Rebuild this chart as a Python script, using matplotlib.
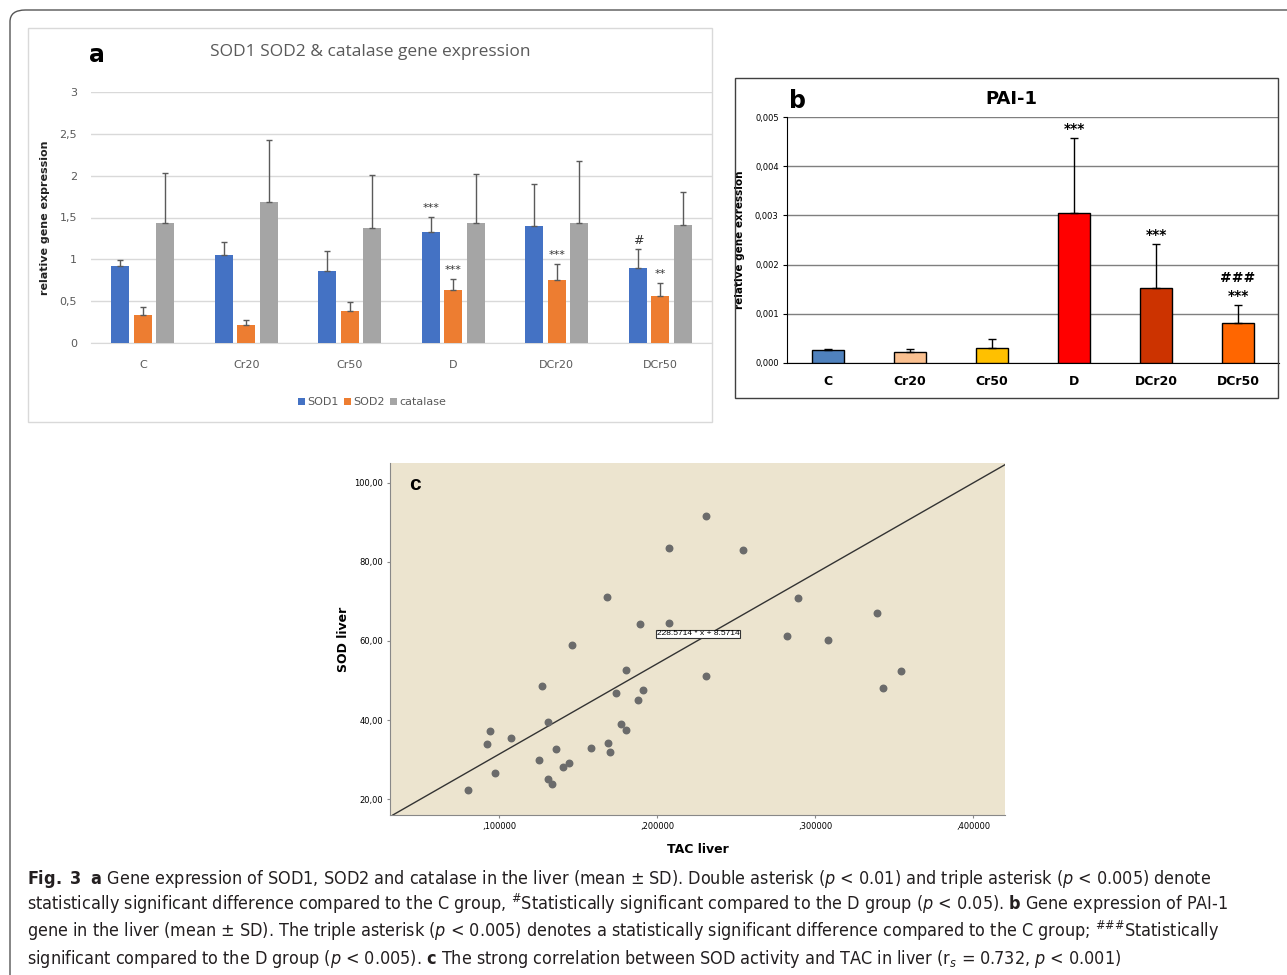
import numpy as np
import matplotlib
matplotlib.use('Agg')
import matplotlib.pyplot as plt
from matplotlib.patches import FancyBboxPatch, Rectangle

# panel a: SOD1 / SOD2 / catalase relative expression (mean, SD)
groups = ['C', 'Cr20', 'Cr50', 'D', 'DCr20', 'DCr50']
sod1 = [0.92, 1.05, 0.86, 1.33, 1.40, 0.90]
sod1_sd = [0.07, 0.16, 0.24, 0.18, 0.50, 0.22]
sod2 = [0.33, 0.22, 0.38, 0.63, 0.75, 0.56]
sod2_sd = [0.10, 0.05, 0.11, 0.14, 0.20, 0.16]
catalase = [1.43, 1.68, 1.37, 1.43, 1.44, 1.41]
catalase_sd = [0.60, 0.75, 0.64, 0.59, 0.73, 0.40]
# (group, series, mark)
marks_a = [(3, 0, '***'), (3, 1, '***'), (4, 1, '***'), (5, 0, '#'), (5, 1, '**')]

# panel b: PAI-1
pai1 = [0.00026, 0.00022, 0.00031, 0.00305, 0.00153, 0.00082]
pai1_sd = [0.00003, 0.00007, 0.00017, 0.00152, 0.00088, 0.00035]
pai1_colors = ['#4f81bd', '#fac090', '#ffc000', '#ff0000', '#cc3300', '#ff6600']
marks_b = [(3, '***'), (4, '***'), (5, '***')]

# panel c: SOD vs TAC in liver
tac = [0.080, 0.092, 0.094, 0.097, 0.107, 0.125, 0.127, 0.131, 0.131, 0.133,
       0.136, 0.140, 0.144, 0.146, 0.158, 0.168, 0.169, 0.170, 0.174, 0.177,
       0.180, 0.180, 0.188, 0.189, 0.191, 0.207, 0.207, 0.231, 0.231, 0.254,
       0.282, 0.289, 0.308, 0.339, 0.343, 0.354]
sod = [22.3, 33.9, 37.3, 26.7, 35.5, 29.9, 48.5, 39.6, 25.1, 23.8,
       32.6, 28.2, 29.1, 58.9, 33.0, 71.1, 34.3, 32.0, 46.8, 38.9,
       52.7, 37.4, 45.0, 64.3, 47.5, 64.5, 83.5, 91.6, 51.1, 83.1,
       61.2, 70.8, 60.2, 67.2, 48.0, 52.3]
slope, intercept = 228.5714, 8.5714
tac_ticks = [0.1, 0.2, 0.3, 0.4]
sod_ticks = [20, 40, 60, 80, 100]

caption = [
    r"$\mathbf{Fig.\ 3}$  $\mathbf{a}$ Gene expression of SOD1, SOD2 and catalase in the liver (mean ± SD). Double asterisk ($p$ < 0.01) and triple asterisk ($p$ < 0.005) denote",
    r"statistically significant difference compared to the C group, $^{\#}$Statistically significant compared to the D group ($p$ < 0.05). $\mathbf{b}$ Gene expression of PAI-1",
    r"gene in the liver (mean ± SD). The triple asterisk ($p$ < 0.005) denotes a statistically significant difference compared to the C group; $^{\#\#\#}$Statistically",
    r"significant compared to the D group ($p$ < 0.005). $\mathbf{c}$ The strong correlation between SOD activity and TAC in liver (r$_{s}$ = 0.732, $p$ < 0.001)",
]

cap_font = 'DejaVu Sans'
plt.rcParams['mathtext.fontset'] = 'custom'
plt.rcParams['mathtext.rm'] = cap_font + ':stretch=condensed'
plt.rcParams['mathtext.it'] = cap_font + ':italic:stretch=condensed'
plt.rcParams['mathtext.bf'] = cap_font + ':bold:stretch=condensed'

W, H = 1287, 975
fig = plt.figure(figsize=(W / 100, H / 100), dpi=100)


def fx(px):
    return px / W


def fy(py):
    return 1 - py / H


# outer rounded frame
fig.add_artist(FancyBboxPatch((fx(10), fy(1000)), fx(1320) - fx(10), fy(10) - fy(1000),
                              boxstyle='round,pad=0,rounding_size=0.012',
                              transform=fig.transFigure, fill=False, ec='#555555', lw=1))

# ---------------- panel a ----------------
fig.add_artist(Rectangle((fx(28), fy(422)), fx(712) - fx(28), fy(28) - fy(422),
                         transform=fig.transFigure, fill=False, ec='#d9d9d9', lw=1))
ax_a = fig.add_axes([fx(91), fy(343), fx(712) - fx(91), fy(92) - fy(343)])
x = np.arange(len(groups))
gray_txt = '#595959'
series = [(sod1, sod1_sd, '#4472c4', 'SOD1'),
          (sod2, sod2_sd, '#ed7d31', 'SOD2'),
          (catalase, catalase_sd, '#a5a5a5', 'catalase')]
offsets = [-0.217, 0, 0.217]
for (vals, sds, col, lab), dx in zip(series, offsets):
    ax_a.bar(x + dx, vals, 0.175, color=col, label=lab, zorder=3)
    ax_a.errorbar(x + dx, vals, yerr=[np.zeros(len(vals)), sds], fmt='none',
                  ecolor='#5a5a5a', elinewidth=1, capsize=2.5, capthick=1, zorder=4)
for g, s, txt in marks_a:
    vals, sds = series[s][0], series[s][1]
    ax_a.text(g + offsets[s], vals[g] + sds[g] + 0.1, txt, ha='center', va='center',
              fontsize=8 if txt != '#' else 9, color='#333333', family='DejaVu Sans')
ax_a.set_xlim(-0.5, 5.5)
ax_a.set_ylim(0, 3)
ax_a.set_yticks(np.arange(0, 3.01, 0.5))
ax_a.set_yticklabels(['0', '0,5', '1', '1,5', '2', '2,5', '3'])
ax_a.set_xticks(x)
ax_a.set_xticklabels(groups)
ax_a.tick_params(length=0, labelsize=8, labelcolor=gray_txt, pad=12)
ax_a.tick_params(axis='y', pad=10)
ax_a.grid(axis='y', color='#d9d9d9', lw=1, zorder=0)
for sp in ['top', 'right', 'left']:
    ax_a.spines[sp].set_visible(False)
ax_a.spines['bottom'].set_color('#d9d9d9')
ax_a.set_ylabel('relative gene expression', fontsize=8, fontweight='bold', color='#222222')
ax_a.yaxis.set_label_coords(-0.066, 0.5)
fig.text(fx(370), fy(52), 'SOD1 SOD2 & catalase gene expression', ha='center', va='center',
         fontsize=12.5, color=gray_txt, family='Open Sans')
fig.text(fx(97), fy(55), 'a', ha='center', va='center', fontsize=17, fontweight='bold')
fig.legend(loc='center', bbox_to_anchor=(fx(372), fy(402)), ncol=3, frameon=False,
           fontsize=8, labelcolor=gray_txt, handlelength=0.6, handleheight=0.6,
           handletextpad=0.2, columnspacing=0.5)

# ---------------- panel b ----------------
fig.add_artist(Rectangle((fx(735), fy(398)), fx(1278) - fx(735), fy(78) - fy(398),
                         transform=fig.transFigure, fill=False, ec='#404040', lw=1))
ax_b = fig.add_axes([fx(787), fy(363), fx(1279) - fx(787), fy(117) - fy(363)])
ax_b.bar(x, pai1, 0.4, color=pai1_colors, edgecolor='black', lw=1, zorder=3)
ax_b.errorbar(x, pai1, yerr=[np.zeros(len(pai1)), pai1_sd], fmt='none', ecolor='black',
              elinewidth=1, capsize=3, capthick=1, zorder=4)
for g, txt in marks_b:
    ax_b.text(g, pai1[g] + pai1_sd[g] + 0.00005, txt, ha='center', va='bottom',
              fontsize=10, fontweight='bold')
ax_b.text(5, pai1[5] + pai1_sd[5] + 0.00042, '###', ha='center', va='bottom',
          fontsize=10, fontweight='bold')
ax_b.set_xlim(-0.5, 5.5)
ax_b.set_ylim(0, 0.005)
ax_b.set_yticks(np.arange(0, 0.00501, 0.001))
ax_b.set_yticklabels(['0,000', '0,001', '0,002', '0,003', '0,004', '0,005'])
ax_b.set_xticks(x)
ax_b.set_xticklabels(groups, fontweight='bold')
ax_b.tick_params(axis='x', length=0, labelsize=9, pad=9)
ax_b.tick_params(axis='y', length=3, labelsize=6, pad=3)
ax_b.grid(axis='y', color='#7f7f7f', lw=1, zorder=0)
for sp in ['top', 'right']:
    ax_b.spines[sp].set_visible(False)
ax_b.set_ylabel('relative gene exression', fontsize=7.5, fontweight='bold')
ax_b.yaxis.set_label_coords(-0.085, 0.5)
fig.text(fx(1011), fy(99), 'PAI-1', ha='center', va='center', fontsize=13, fontweight='bold')
fig.text(fx(797), fy(101), 'b', ha='center', va='center', fontsize=17, fontweight='bold')

# ---------------- panel c ----------------
ax_c = fig.add_axes([fx(390), fy(815), fx(1005) - fx(390), fy(463) - fy(815)])
ax_c.set_facecolor('#ece4cf')
ax_c.scatter(tac, sod, s=22, color='#6b6b6b', zorder=3)
ax_c.axline((0, intercept), slope=slope, color='#333333', lw=1, zorder=2)
ax_c.set_xlim(0.0307, 0.42)
ax_c.set_ylim(16, 105)
ax_c.set_xticks(tac_ticks)
ax_c.set_xticklabels([(',%.6f' % t).replace(',0.', ',') for t in tac_ticks])
ax_c.set_yticks(sod_ticks)
ax_c.set_yticklabels(['%d,00' % v for v in sod_ticks])
ax_c.tick_params(length=2, labelsize=6, color='#888888', pad=3)
for sp in ['top', 'right']:
    ax_c.spines[sp].set_visible(False)
for sp in ['left', 'bottom']:
    ax_c.spines[sp].set_color('#888888')
ax_c.set_xlabel('TAC liver', fontsize=9, fontweight='bold', labelpad=9)
ax_c.set_ylabel('SOD liver', fontsize=9, fontweight='bold', labelpad=3)
ax_c.text(0.2257, 61.8, '%.4f * x + %.4f' % (slope, intercept), ha='center', va='center',
          fontsize=6, family='Liberation Sans',
          bbox=dict(boxstyle='square,pad=0.1', fc='white', ec='#333333', lw=0.8))
ax_c.text(0.04, 0.94, 'c', transform=ax_c.transAxes, ha='center', va='center',
          fontsize=15, fontweight='bold', family='Liberation Sans')

# ---------------- caption ----------------
baselines = [884, 910, 937, 964]
cap_texts = []
for line, b in zip(caption, baselines):
    cap_texts.append(fig.text(fx(27), fy(b), line, ha='left', va='baseline',
                              fontsize=14, family=cap_font, stretch='condensed',
                              color='#231f20'))
renderer = fig.canvas.get_renderer()
w1 = cap_texts[0].get_window_extent(renderer).width
scale = 1191 / w1
for t in cap_texts:
    t.set_fontsize(14 * scale)

fig.savefig('out.png', dpi=100)
